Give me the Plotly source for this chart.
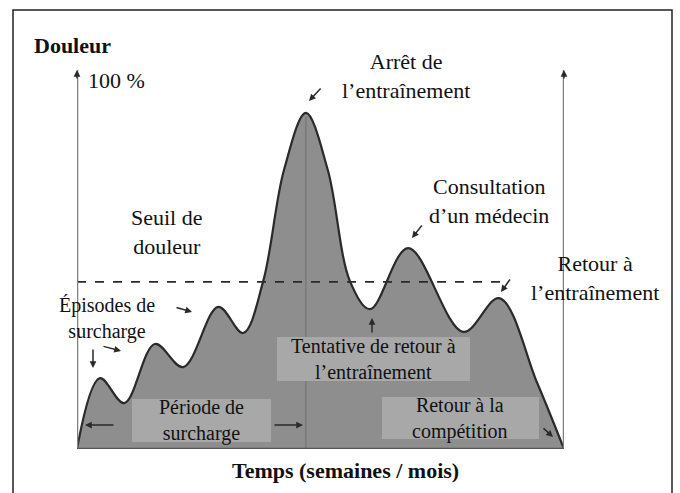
import plotly.graph_objects as go

# Pain curve (time in % of the span, pain in %)
time = [0, 4.7, 9.7, 16.0, 21.8, 29.0, 34.1, 38.2, 42.5, 47.0, 51.5, 56.1, 60.2, 68.0, 79.3, 86.7, 94.5, 100]
pain = [0, 18.7, 12.1, 27.7, 21.6, 37.5, 30.6, 44.1, 73.6, 88.7, 73.6, 44.1, 36.9, 53.0, 30.9, 39.8, 17.4, 0]
threshold = 44.1
threshold_end = 88.5

FONT = "Liberation Serif"
FILL = "#8e8e8e"
BOX = "#a8a8a8"
INK = "#2a2a2a"

# plot area in pixels: left 77, right 564, top 70, bottom 449
L, R, T, B = 77, 564, 70, 449
W, H = 680, 493


def pp(x, y):
    """pixel position -> paper fraction"""
    return (x - L) / (R - L), (B - y) / (B - T)


fig = go.Figure()

fig.add_trace(go.Scatter(
    x=time, y=pain, mode="lines", fill="tozeroy", fillcolor=FILL,
    line=dict(color=INK, width=2.2, shape="spline", smoothing=1.0),
    hoverinfo="skip", showlegend=False))

shapes = []
# peak marker line
peak_i = pain.index(max(pain))
shapes.append(dict(type="line", xref="x", yref="y", x0=time[peak_i], x1=time[peak_i], y0=0, y1=pain[peak_i] - 1,
                   line=dict(color="#7a7a7a", width=1.5), layer="above"))

# grey text boxes
for x0, y0, x1, y1 in [(277, 337, 470, 381), (132, 399, 271, 442), (382, 397, 539, 439)]:
    a0, b0 = pp(x0, y1)
    a1, b1 = pp(x1, y0)
    shapes.append(dict(type="rect", xref="paper", yref="paper", x0=a0, x1=a1, y0=b0, y1=b1,
                       fillcolor=BOX, line=dict(width=0), layer="above"))

# threshold
shapes.append(dict(type="line", xref="x", yref="y", x0=0, x1=threshold_end, y0=threshold, y1=threshold,
                   line=dict(color=INK, width=1.6, dash="dash"), layer="above"))
# axes
shapes.append(dict(type="line", xref="x", yref="y", x0=0, x1=0, y0=0, y1=100,
                   line=dict(color="#808080", width=2.5), layer="above"))
shapes.append(dict(type="line", xref="x", yref="y", x0=100, x1=100, y0=0, y1=100,
                   line=dict(color="#808080", width=2.5), layer="above"))
shapes.append(dict(type="line", xref="x", yref="y", x0=0, x1=100, y0=0, y1=0,
                   line=dict(color="#555555", width=2.5), layer="above"))
# outer frame
fx0, fy0 = pp(13, 520)
fx1, fy1 = pp(672, 10)
shapes.append(dict(type="rect", xref="paper", yref="paper", x0=fx0, x1=fx1, y0=fy0, y1=fy1,
                   line=dict(color="#222222", width=1.5)))

annotations = []


def label(text, x, y, size=22, bold=False, anchor="center"):
    a, b = pp(x, y)
    if bold:
        text = f"<b>{text}</b>"
    annotations.append(dict(text=text, x=a, y=b, xref="paper", yref="paper", showarrow=False,
                            xanchor=anchor, yanchor="middle", align="center",
                            font=dict(family=FONT, size=size, color="#111111")))


label("Douleur", 32, 45, bold=True, anchor="left")
label("100 %", 86, 80, anchor="left")
label("Arrêt de<br>l’entraînement", 406, 76)
label("Seuil de<br>douleur", 167, 232)
label("Consultation<br>d’un médecin", 489, 201)
label("Retour à<br>l’entraînement", 595, 278)
label("Épisodes de<br>surcharge", 107, 318, size=20)
label("Tentative de retour à<br>l’entraînement", 373, 359, size=20)
label("Période de<br>surcharge", 201, 420, size=20)
label("Retour à la<br>compétition", 460, 418, size=20)
label("Temps (semaines / mois)", 345, 470, bold=True)

# small arrows: (head, tail) in pixels
arrows = [
    ((309, 101), (322, 87)),
    ((412, 238), (423, 224)),
    ((501, 292), (511, 278)),
    ((93, 368), (93, 348)),
    ((121, 351), (102, 346)),
    ((192, 312), (175, 307)),
    ((372, 318), (372, 334)),
    ((85, 425), (115, 425)),
    ((303, 425), (273, 425)),
    ((553, 437), (542, 427)),
    ((77, 70), (77, 80)),
    ((564, 70), (564, 80)),
]
for (hx, hy), (tx, ty) in arrows:
    a, b = pp(hx, hy)
    annotations.append(dict(text="", x=a, y=b, xref="paper", yref="paper", showarrow=True,
                            ax=tx - hx, ay=ty - hy, arrowhead=2, arrowsize=0.9, arrowwidth=1.5,
                            arrowcolor=INK, standoff=0, startstandoff=0))

fig.update_layout(
    width=W, height=H, margin=dict(l=L, r=W - R, t=T, b=H - B),
    paper_bgcolor="white", plot_bgcolor="white",
    font=dict(family=FONT),
    shapes=shapes, annotations=annotations, showlegend=False,
    xaxis=dict(range=[0, 100], visible=False, fixedrange=True),
    yaxis=dict(range=[0, 100], visible=False, fixedrange=True),
)

fig.write_html("out.html", config=dict(displayModeBar=False),
               post_script="document.body.style.margin='0';")
